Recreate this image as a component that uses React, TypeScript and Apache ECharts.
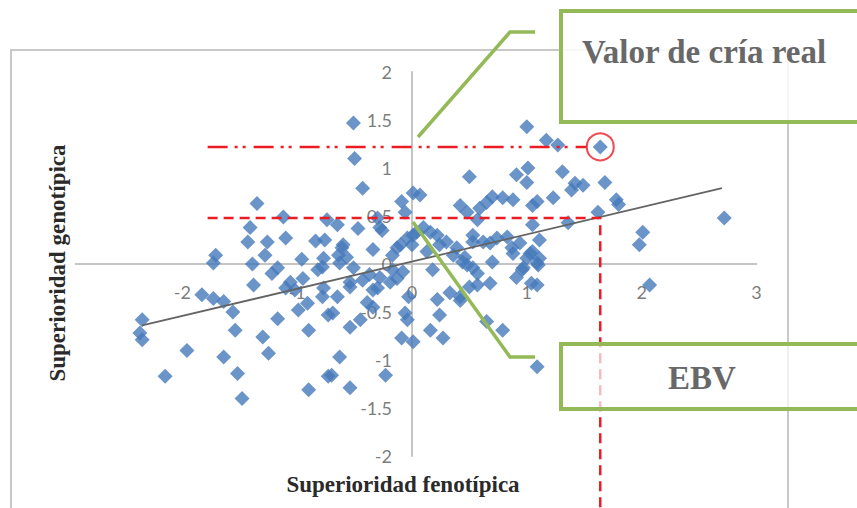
import React, { useEffect, useRef } from "react";
import * as echarts from "echarts";

// Axis ticks
const xTickValues = [-2, -1, 0, 1, 2, 3];
const yTickValues = [-2, -1.5, -1, -0.5, 0, 0.5, 1, 1.5, 2];
const xMin = -2.93;
const xMax = 3;
const yMin = -2;
const yMax = 2;
const yInterval = 0.5;

// Scatter points by quadrant [fenotípica, genotípica]
const upperLeft: [number, number][] = [
  [-1.35, 0.63], [-1.12, 0.49], [-1.41, 0.38], [-1.43, 0.23], [-1.26, 0.23],
  [-1.28, 0.09], [-1.10, 0.27], [-1.71, 0.09], [-0.84, 0.24], [-0.76, 0.25],
  [-0.74, 0.46], [-0.96, 0.05], [-0.77, 0.06], [-0.51, 1.47], [-0.50, 1.10],
  [-0.43, 0.79], [-0.09, 0.65], [-0.06, 0.54], [-0.30, 0.48], [-0.26, 0.35],
  [-0.47, 0.37], [-0.60, 0.20], [-0.64, 0.09], [-0.34, 0.15], [-0.13, 0.17],
  [-0.04, 0.27], [-1.73, 0.01], [-0.63, 0.01], [-0.65, 0.41], [-0.28, 0.38],
  [-0.61, 0.17], [-0.57, 0.07], [-0.17, 0.09], [-0.10, 0.20],
];
const upperRight: [number, number][] = [
  [0.01, 0.74], [0.07, 0.72], [0.04, 0.33], [0.16, 0.33], [0.24, 0.20],
  [0.13, 0.13], [0.50, 0.91], [0.42, 0.61], [0.48, 0.54], [0.57, 0.46],
  [0.59, 0.58], [0.65, 0.64], [0.70, 0.70], [0.79, 0.69], [0.88, 0.67],
  [1.00, 1.43], [0.91, 0.93], [1.01, 1.00], [1.00, 0.85], [1.05, 0.61],
  [0.53, 0.30], [0.62, 0.23], [0.74, 0.27], [0.87, 0.17], [0.94, 0.22],
  [1.05, 0.13], [1.00, 0.06], [0.39, 0.17], [0.46, 0.07], [1.17, 1.29],
  [1.27, 1.24], [1.64, 1.22], [1.31, 0.96], [1.42, 0.84], [1.49, 0.82],
  [1.39, 0.77], [1.68, 0.85], [1.78, 0.67], [1.23, 0.69], [1.09, 0.65],
  [1.62, 0.54], [1.36, 0.43], [1.11, 0.25], [2.72, 0.48], [2.01, 0.33],
  [1.98, 0.20], [1.80, 0.62], [1.11, 0.06], [0.01, 0.30], [0.10, 0.38],
  [0.22, 0.30], [0.30, 0.23], [0.53, 0.23], [0.68, 0.22], [0.83, 0.28],
  [1.05, 0.41], [0.88, 0.11], [1.03, 0.11], [1.09, 0.01], [0.70, 0.02],
  [0.44, 0.02], [0.00, 0.20], [0.36, 0.09],
];
const lowerLeft: [number, number][] = [
  [-1.39, 0.0], [-1.38, -0.22], [-2.35, -0.58], [-2.35, -0.79], [-2.37, -0.72],
  [-1.83, -0.32], [-1.73, -0.36], [-1.64, -0.39], [-1.56, -0.50], [-1.54, -0.69],
  [-1.96, -0.90], [-2.15, -1.17], [-1.64, -0.97], [-1.52, -1.14], [-1.48, -1.40],
  [-1.30, -0.76], [-1.25, -0.93], [-1.17, -0.57], [-1.10, -0.25], [-1.22, -0.10],
  [-0.99, -0.48], [-0.91, -0.41], [-0.90, -0.69], [-0.78, -0.34], [-0.73, -0.53],
  [-0.90, -1.31], [-0.73, -1.17], [-0.82, -0.06], [-1.02, -0.27], [-0.54, -0.24],
  [-0.65, -0.34], [-0.43, -0.17], [-0.34, -0.27], [-0.28, -0.14], [-0.17, -0.06],
  [-0.13, -0.15], [-0.69, -0.51], [-0.54, -0.66], [-0.45, -0.58], [-0.34, -0.45],
  [-0.06, -0.51], [-0.04, -0.58], [-0.09, -0.77], [-0.03, -0.34], [-0.63, -0.97],
  [-0.70, -1.16], [-0.54, -1.29], [-0.23, -1.16], [-0.78, -0.03], [-1.17, -0.04],
  [-1.06, -0.19], [-0.95, -0.15], [-0.77, -0.25], [-0.51, -0.04], [-0.54, -0.19],
  [-0.37, -0.11], [-0.30, -0.25], [-0.08, -0.08], [-0.19, -0.19], [-0.39, -0.40],
];
const lowerRight: [number, number][] = [
  [0.01, -0.81], [0.18, -0.06], [0.33, -0.30], [0.22, -0.37], [0.24, -0.53],
  [0.16, -0.69], [0.27, -0.77], [0.42, -0.34], [0.50, -0.24], [0.57, -0.10],
  [0.68, -0.20], [0.65, -0.60], [0.79, -0.69], [0.96, -0.06], [0.48, -0.01],
  [1.09, -1.07], [1.10, -0.01], [1.09, -0.22], [2.07, -0.22], [0.97, -0.04],
  [0.91, -0.14], [1.04, -0.20], [0.53, -0.04], [0.57, -0.22], [0.42, -0.38],
];

// Trend line end points
const trendX = [-2.35, 2.7];
const trendY = [-0.64, 0.79];

// Red guide lines
const guideStartX = -1.78;
const realGuideEndX = 1.52;
const realValueY = 1.22;
const ebvY = 0.48;
const phenoX = 1.64;
const guideBottomY = -2.54;
const circledPoint: [number, number] = [1.64, 1.22];

// Texts
const xTitle = "Superioridad fenotípica";
const yTitle = "Superioridad genotípica";
const realLabel = "Valor de cría real";
const ebvLabel = "EBV";

const GREEN = "#94b957";
const RED = "#ec1c24";
const TICK_FONT = { color: "#595959", fontFamily: "Lato", fontSize: 18 };

export default function App() {
  const ref = useRef<HTMLDivElement>(null);
  useEffect(() => {
    if (!ref.current) return;
    const chart = echarts.init(ref.current, null, { renderer: "svg" });
    const allPoints = [...upperLeft, ...upperRight, ...lowerLeft, ...lowerRight];
    const option: any = {
      animation: false,
      backgroundColor: "#ffffff",
      grid: {
        left: 75.6,
        top: 72,
        width: 680.8,
        height: 384,
        containLabel: false,
        outerBoundsMode: "none",
      },
      xAxis: {
        type: "value",
        min: xMin,
        max: xMax,
        axisLine: { onZero: true, lineStyle: { color: "#c4c4c4", width: 2 } },
        axisTick: { show: false },
        splitLine: { show: false },
        axisLabel: { show: false },
      },
      yAxis: {
        type: "value",
        min: yMin,
        max: yMax,
        interval: yInterval,
        axisLine: { onZero: true, lineStyle: { color: "#c4c4c4", width: 2 } },
        axisTick: { show: false },
        splitLine: { show: false },
        axisLabel: { show: false },
      },
      series: [
        {
          type: "scatter",
          data: xTickValues.map((v) => [v, 0]),
          symbolSize: 0,
          silent: true,
          z: 1,
          label: {
            show: true,
            position: "bottom",
            distance: 19,
            formatter: (p: any) => String(p.value[0]),
            ...TICK_FONT,
          },
        },
        {
          type: "scatter",
          data: yTickValues.map((v) => [0, v]),
          symbolSize: 0,
          silent: true,
          z: 1,
          label: {
            show: true,
            position: "left",
            distance: 20,
            formatter: (p: any) => String(p.value[1]),
            ...TICK_FONT,
          },
        },
        {
          type: "scatter",
          data: allPoints,
          symbol: "diamond",
          symbolSize: 15,
          itemStyle: { color: "#4679ba" },
          z: 2,
          silent: true,
        },
        {
          type: "line",
          data: trendX.map((x, i) => [x, trendY[i]]),
          symbol: "none",
          lineStyle: { color: "#646464", width: 1.8 },
          z: 3,
          silent: true,
        },
        {
          type: "line",
          data: [
            [guideStartX, realValueY],
            [realGuideEndX, realValueY],
          ],
          symbol: "none",
          clip: false,
          lineStyle: { color: RED, width: 2.5, type: [20, 7, 3, 5, 3, 8] },
          z: 4,
          silent: true,
        },
        {
          type: "line",
          data: [
            [guideStartX, ebvY],
            [phenoX, ebvY],
            [phenoX, guideBottomY],
          ],
          symbol: "none",
          clip: false,
          lineStyle: { color: RED, width: 2.5, type: [10, 6] },
          z: 4,
          silent: true,
        },
        {
          type: "scatter",
          data: [circledPoint],
          symbol: "circle",
          symbolSize: 27,
          itemStyle: { color: "rgba(0,0,0,0)", borderColor: RED, borderWidth: 2 },
          z: 5,
          silent: true,
        },
      ],
      graphic: [
        {
          type: "rect",
          shape: { x: 11, y: 50, width: 777, height: 470 },
          style: { fill: "none", stroke: "#c8c8c8", lineWidth: 2 },
          z: -10,
          silent: true,
        },
        {
          type: "polyline",
          shape: { points: [[535, 32], [510, 32], [418, 137]] },
          style: { fill: "none", stroke: GREEN, lineWidth: 3.5 },
          z: 100,
          silent: true,
        },
        {
          type: "polyline",
          shape: { points: [[535, 357], [510, 357], [413, 222]] },
          style: { fill: "none", stroke: GREEN, lineWidth: 3.5 },
          z: 100,
          silent: true,
        },
        {
          type: "rect",
          shape: { x: 561, y: 11, width: 320, height: 111 },
          style: { fill: "rgba(255,255,255,0.85)", stroke: GREEN, lineWidth: 4 },
          z: 100,
          silent: true,
        },
        {
          type: "rect",
          shape: { x: 561, y: 344, width: 320, height: 65 },
          style: { fill: "rgba(255,255,255,0.7)", stroke: GREEN, lineWidth: 4 },
          z: 100,
          silent: true,
        },
        {
          type: "text",
          x: 582,
          y: 52,
          style: {
            text: realLabel,
            fill: "#686868",
            font: "bold 33px 'Liberation Serif', 'Times New Roman', serif",
            textAlign: "left",
            textVerticalAlign: "middle",
          },
          z: 101,
          silent: true,
        },
        {
          type: "text",
          x: 702,
          y: 378,
          style: {
            text: ebvLabel,
            fill: "#686868",
            font: "bold 33px 'Liberation Serif', 'Times New Roman', serif",
            textAlign: "center",
            textVerticalAlign: "middle",
          },
          z: 101,
          silent: true,
        },
        {
          type: "text",
          x: 403,
          y: 484,
          style: {
            text: xTitle,
            fill: "#2a2a2a",
            font: "bold 23px 'Liberation Serif', 'Times New Roman', serif",
            textAlign: "center",
            textVerticalAlign: "middle",
          },
          z: 50,
          silent: true,
        },
        {
          type: "text",
          x: 57,
          y: 263,
          rotation: Math.PI / 2,
          style: {
            text: yTitle,
            fill: "#2a2a2a",
            font: "bold 23px 'Liberation Serif', 'Times New Roman', serif",
            textAlign: "center",
            textVerticalAlign: "middle",
          },
          z: 50,
          silent: true,
        },
      ],
    };
    chart.setOption(option);
    return () => chart.dispose();
  }, []);
  return (
    <div
      ref={ref}
      style={{ position: "fixed", left: 0, top: 0, width: 857, height: 508, background: "#fff" }}
    />
  );
}
